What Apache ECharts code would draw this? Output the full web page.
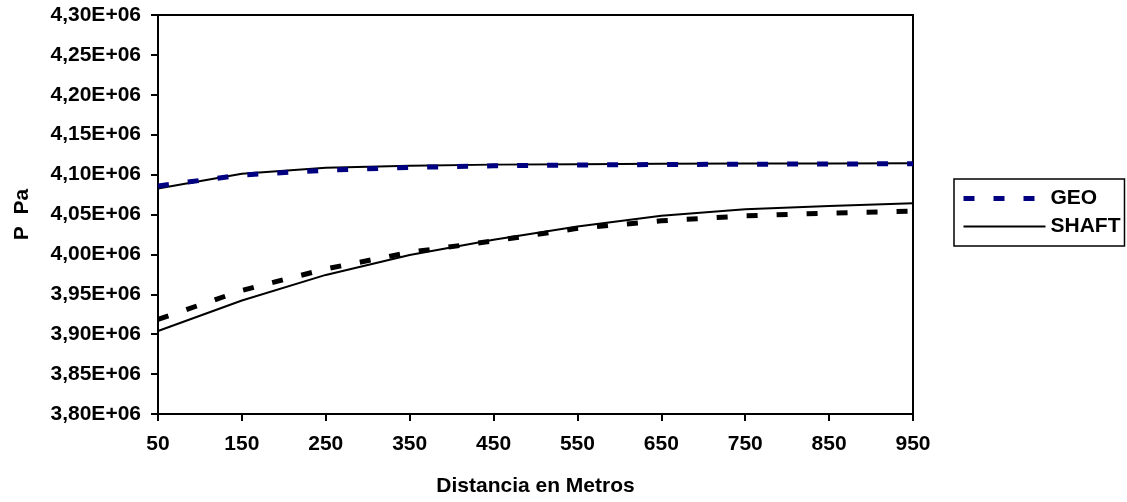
<!DOCTYPE html>
<html>
<head>
<meta charset="utf-8">
<script src="https://cdn.jsdelivr.net/npm/echarts@6/dist/echarts.min.js"></script>
<style>
  html, body { margin: 0; padding: 0; background: #ffffff; }
  #chart { width: 1127px; height: 502px; }
</style>
</head>
<body>
<div id="chart"></div>
<script>
// Distance along the line (m)
const distancias = ['50', '150', '250', '350', '450', '550', '650', '750', '850', '950'];

// Pressure (Pa), upper pair of curves
const geoAlta   = [4.0858e6, 4.0995e6, 4.1055e6, 4.1090e6, 4.1110e6, 4.1120e6, 4.1126e6, 4.1130e6, 4.1133e6, 4.1136e6];
const shaftAlta = [4.0825e6, 4.1010e6, 4.1085e6, 4.1110e6, 4.1125e6, 4.1130e6, 4.1135e6, 4.1138e6, 4.1140e6, 4.1142e6];

// Pressure (Pa), lower pair of curves
const geoBaja   = [3.9186e6, 3.9548e6, 3.9818e6, 4.0026e6, 4.0168e6, 4.0326e6, 4.0421e6, 4.0483e6, 4.0517e6, 4.0542e6];
const shaftBaja = [3.9040e6, 3.9423e6, 3.9743e6, 3.9993e6, 4.0184e6, 4.0350e6, 4.0483e6, 4.0567e6, 4.0608e6, 4.0642e6];

// Pressure axis ticks
const yMin = 3.80e6, yMax = 4.30e6, yStep = 0.05e6;

const FONT = '"Liberation Sans", Arial, sans-serif';
const FS = 21;
const fmtSci = v => (v / 1e6).toFixed(2).replace('.', ',') + 'E+06';

const chart = echarts.init(document.getElementById('chart'), null, { renderer: 'canvas' });

const dashGeo = [11, 19];
const geoLine = { color: '#000080', width: 5, type: dashGeo, cap: 'butt' };
const shaftLine = { color: '#000', width: 2, type: 'solid' };
const hiddenDot = { opacity: 0, color: 'transparent', borderWidth: 0 };

chart.setOption({
  backgroundColor: '#ffffff',
  animation: false,
  grid: {
    left: 158, right: 214, top: 15, bottom: 86,
    show: true, borderColor: '#000', borderWidth: 2, backgroundColor: 'transparent'
  },
  legend: {
    orient: 'vertical',
    left: 954, top: 179,
    padding: [9, 4, 9, 7],
    itemGap: 7,
    itemWidth: 82, itemHeight: 14,
    borderColor: '#000', borderWidth: 1.5,
    itemStyle: hiddenDot,
    data: [
      { name: 'GEO', lineStyle: geoLine, itemStyle: hiddenDot },
      { name: 'SHAFT', lineStyle: shaftLine, itemStyle: hiddenDot }
    ],
    textStyle: { fontFamily: FONT, fontWeight: 'bold', fontSize: FS, color: '#000', lineHeight: 20 }
  },
  xAxis: {
    type: 'category',
    data: distancias,
    boundaryGap: false,
    name: 'Distancia en Metros',
    nameLocation: 'middle',
    nameGap: 62,
    nameTextStyle: { fontFamily: FONT, fontWeight: 'bold', fontSize: FS, color: '#000' },
    axisLine: { lineStyle: { color: '#000', width: 2 } },
    axisTick: { show: true, length: 7, inside: false, lineStyle: { color: '#000', width: 2 } },
    axisLabel: { fontFamily: FONT, fontWeight: 'bold', fontSize: FS, color: '#000', margin: 20 },
    splitLine: { show: false }
  },
  yAxis: {
    type: 'value',
    min: yMin, max: yMax, interval: yStep,
    name: 'P  Pa',
    nameLocation: 'middle',
    nameGap: 125,
    nameRotate: 90,
    nameTextStyle: { fontFamily: FONT, fontWeight: 'bold', fontSize: FS, color: '#000' },
    axisLine: { show: true, lineStyle: { color: '#000', width: 2 } },
    axisTick: { show: true, length: 7, inside: false, lineStyle: { color: '#000', width: 2 } },
    axisLabel: { fontFamily: FONT, fontWeight: 'bold', fontSize: FS, color: '#000', margin: 17, formatter: fmtSci },
    splitLine: { show: false }
  },
  series: [
    {
      name: 'SHAFT', type: 'line', data: shaftAlta,
      symbol: 'none', z: 2,
      lineStyle: shaftLine,
      itemStyle: { color: '#000' }
    },
    {
      name: 'SHAFT', type: 'line', data: shaftBaja,
      symbol: 'none', z: 2,
      lineStyle: shaftLine,
      itemStyle: { color: '#000' }
    },
    {
      name: 'GEO', type: 'line', data: geoAlta,
      symbol: 'none', z: 3,
      lineStyle: geoLine,
      itemStyle: { color: '#000080' }
    },
    {
      name: 'GEO', type: 'line', data: geoBaja,
      symbol: 'none', z: 3,
      lineStyle: Object.assign({}, geoLine, { color: '#000' }),
      itemStyle: { color: '#000' }
    }
  ]
});
</script>
</body>
</html>
